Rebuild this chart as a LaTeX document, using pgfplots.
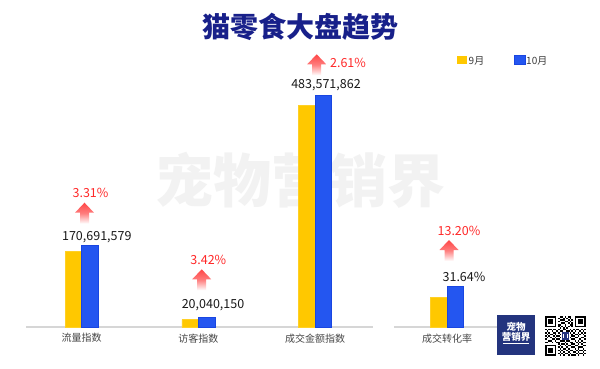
\documentclass[border=0pt]{standalone}
\usepackage{pgfplots}
\usepackage{pgfplotstable}
\pgfplotsset{compat=1.18}
\usepackage{fontspec}
\setmainfont{Noto Sans CJK SC}
\definecolor{cyellow}{RGB}{255,200,0}
\definecolor{cblue}{RGB}{36,86,240}
\definecolor{cblueedge}{RGB}{25,70,225}
\definecolor{ctitle}{RGB}{24,32,138}
\definecolor{cred}{RGB}{255,40,40}
\definecolor{carrow}{RGB}{255,70,70}
\definecolor{cgrid}{RGB}{214,214,214}
\definecolor{cwm}{RGB}{242,242,242}
\definecolor{clogo}{RGB}{35,52,126}
\definecolor{ctext}{RGB}{25,25,25}
\definecolor{ccat}{RGB}{70,70,70}
\newcommand{\uparr}[2]{\path[top color=carrow, bottom color=white, middle color=carrow!70!white] (#1-9.5,#2-10) -- (#1,#2) -- (#1+9.5,#2-10) -- (#1+4.5,#2-10) -- (#1+4.5,#2-21) -- (#1-4.5,#2-21) -- (#1-4.5,#2-10) -- cycle;}
\pgfplotstableread{
x sep oct
0 157700000 170691579
1 15500000 20040150
2 463000000 483571862
}\maindata
\pgfplotstableread{
x sep oct
0 23.07 31.64
}\convdata
\begin{document}
\begin{tikzpicture}[x=1pt,y=1pt]
\path[use as bounding box] (0,0) rectangle (600,368);
\fill[white] (0,0) rectangle (600,368);
% watermark
\node[font=\fontsize{58}{60}\selectfont\bfseries, text=cwm] at (300,188) {宠物营销界};
% title
\node[font=\fontsize{28}{32}\selectfont\bfseries, text=ctitle] at (300,341) {猫零食大盘趋势};
% main axis
\begin{axis}[at={(26pt,41pt)}, anchor=south west, scale only axis,
  width=347pt, height=267pt,
  xmin=-0.477, xmax=2.496, ymin=0, ymax=5.57e8,
  ybar=0pt, bar width=16.5pt,
  axis x line=bottom, axis y line=none,
  x axis line style={-, draw=cgrid, line width=1.3pt},
  xtick={0,1,2}, xticklabels={流量指数,访客指数,成交金额指数},
  xtick style={draw=none}, major tick length=0pt,
  xticklabel style={font=\fontsize{10}{12}\selectfont, text=ccat, yshift=-3pt},
  clip=false]
\addplot[fill=cyellow, draw=cyellow!85!white] table[x=x,y=sep]{\maindata};
\addplot[fill=cblue, draw=cblueedge] table[x=x,y=oct]{\maindata};
\end{axis}
% conversion axis
\begin{axis}[at={(394pt,41pt)}, anchor=south west, scale only axis,
  width=106pt, height=267pt,
  xmin=-0.455, xmax=0.453, ymin=0, ymax=208.1,
  ybar=0pt, bar width=16.5pt,
  axis x line=bottom, axis y line=none,
  x axis line style={-, draw=cgrid, line width=1.3pt},
  xtick={0}, xticklabels={成交转化率},
  xtick style={draw=none}, major tick length=0pt,
  xticklabel style={font=\fontsize{10}{12}\selectfont, text=ccat, yshift=-3pt},
  clip=false]
\addplot[fill=cyellow, draw=cyellow!85!white] table[x=x,y=sep]{\convdata};
\addplot[fill=cblue, draw=cblueedge] table[x=x,y=oct]{\convdata};
\end{axis}
% data labels
\begin{scope}[every node/.style={font=\fontsize{12.5}{15}\selectfont, text=ctext}]
\node at (96.8,131.3) {170,691,579};
\node at (213,63) {20,040,150};
\node at (326,283) {483,571,862};
\node at (464,91.3) {31.64\%};
\end{scope}
\begin{scope}[every node/.style={font=\fontsize{12.5}{15}\selectfont, text=cred}]
\node at (90.5,174.7) {3.31\%};
\node at (208.3,108) {3.42\%};
\node at (348,305.3) {2.61\%};
\node at (459,137.3) {13.20\%};
\end{scope}
\uparr{84.5}{165.3}
\uparr{201.7}{98.7}
\uparr{316.7}{313.7}
\uparr{449}{128}
% legend
\fill[cyellow] (456.7,303.7) rectangle (467.3,312.3);
\node[anchor=west, inner sep=0pt, font=\fontsize{10}{12}\selectfont, text=ctext!85!white] at (468.5,307.3) {9月};
\fill[cblue] (514,303.7) rectangle (525,312.3);
\draw[cblueedge, line width=0.5pt] (514,303.7) rectangle (525,312.3);
\node[anchor=west, inner sep=0pt, font=\fontsize{10}{12}\selectfont, text=ctext!85!white] at (526,307.3) {10月};
% logo
\fill[clogo] (496.7,53) rectangle (535,13);
\node[font=\fontsize{9.5}{11}\selectfont\bfseries, text=white] at (516,41.3) {宠物};
\node[font=\fontsize{9.5}{11}\selectfont\bfseries, text=white] at (516,31.3) {营销界};
\draw[white, line width=1pt] (503,24.7) -- (529,24.7);
% QR-like code
\begin{scope}[shift={(545,52)}, x=1.64pt, y=-1.6pt]
\foreach \ox/\oy in {0/0,18/0,0/18}{
  \fill[black] (\ox,\oy) rectangle ++(7,7);
  \fill[white] (\ox+1,\oy+1) rectangle ++(5,5);
  \fill[black] (\ox+2,\oy+2) rectangle ++(3,3);
}
\foreach \r/\cols in {0/{9,10,12,14,15},1/{8,11,13,15},2/{9,10,11,14,16},3/{8,12,13,15},4/{10,11,14,16},5/{8,9,12,15,16},6/{8,10,12,14,16},7/{9,11,13},8/{0,2,3,5,6,8,11,12,15,17,19,20,22,24},9/{1,4,7,9,10,13,14,16,18,21,23},10/{0,2,5,6,8,15,17,20,22,24},11/{1,3,4,6,9,16,18,19,21,23},12/{0,2,5,7,8,16,17,20,24},13/{1,3,6,9,15,18,19,22,23},14/{0,4,5,7,8,16,17,21,24},15/{2,3,6,9,10,11,13,14,18,20,22},16/{0,1,4,7,8,12,15,16,19,21,23,24},17/{8,10,11,13,16,17,20,22},18/{9,12,14,15,18,19,23,24},19/{8,10,13,16,17,20,21,22},20/{9,11,12,14,18,20,23},21/{8,10,13,15,16,19,21,22,24},22/{9,11,14,17,18,20,23},23/{8,10,12,13,15,19,21,22,24},24/{9,11,14,16,17,18,20,23}}{
  \foreach \c in \cols { \fill[black] (\c,\r) rectangle ++(1,1); }
}
\fill[clogo] (10.3,10.3) rectangle (14.7,14.7);
\fill[white] (11,11) rectangle (14,14);
\fill[clogo] (11.5,11.5) rectangle (13.5,13.5);
\end{scope}
\end{tikzpicture}
\end{document}
